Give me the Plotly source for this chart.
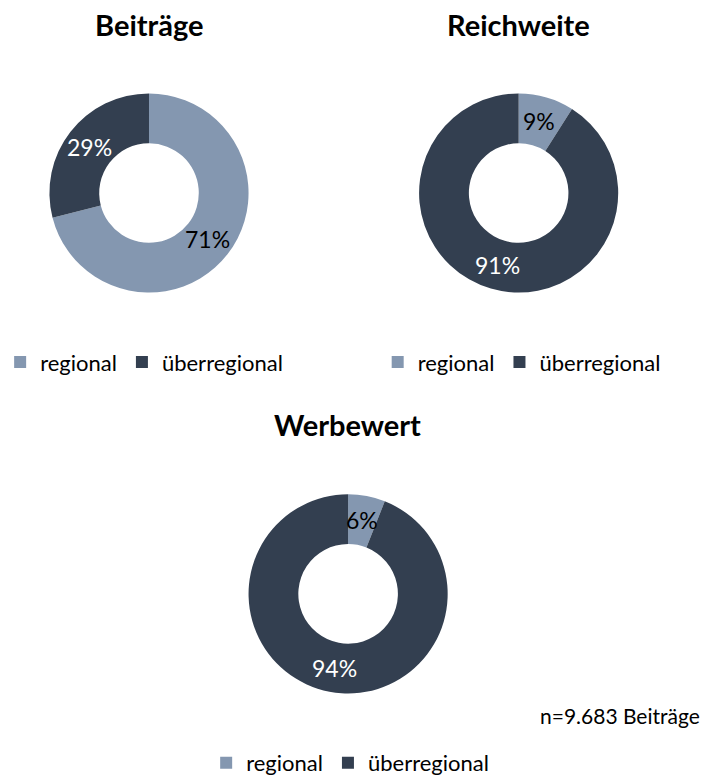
import math
import plotly.graph_objects as go

labels = ["regional", "überregional"]
beitraege = [71, 29]
reichweite = [9, 91]
werbewert = [6, 94]
titles = ["Beiträge", "Reichweite", "Werbewert"]
note = "n=9.683 Beiträge"

colors = ["#8497B0", "#333F50"]
text_colors = ["#000000", "#ffffff"]
FONT = "Lato, Calibri, Carlito, sans-serif"
W, H = 702, 784
HOLE = 0.5


def px_x(v):
    return v / W


def px_y(v):
    return 1 - v / H


fig = go.Figure()

# (values, center x, center y, radius in px, legend id)
charts = [
    (beitraege, 141, 195, 101, "legend"),
    (reichweite, 516, 195, 101, "legend2"),
    (werbewert, 343, 600, 101, "legend3"),
]

for values, cx, cy, r, leg in charts:
    fig.add_trace(go.Pie(
        labels=labels,
        values=values,
        hole=HOLE,
        sort=False,
        direction="clockwise",
        rotation=0,
        domain=dict(x=[px_x(cx - r), px_x(cx + r)], y=[px_y(cy + r), px_y(cy - r)]),
        marker=dict(colors=colors, line=dict(width=0)),
        textinfo="none",
        showlegend=False,
        hoverinfo="label+percent",
    ))
    # percent labels at the middle of the ring, on each slice's bisector
    total = sum(values)
    start = 0.0
    rm = r * (1 + HOLE) / 2
    for v, tc in zip(values, text_colors):
        ang = 2 * math.pi * (start + v / 2) / total
        start += v
        fig.add_annotation(
            text="%d%%" % round(100 * v / total),
            x=px_x(cx + rm * math.sin(ang)), y=px_y(cy - rm * math.cos(ang)),
            xref="paper", yref="paper", showarrow=False,
            xanchor="center", yanchor="middle",
            font=dict(size=23, family=FONT, color=tc),
        )
    # legend entries
    for lab, col in zip(labels, colors):
        fig.add_trace(go.Scatter(
            x=[None], y=[None], mode="markers", name=lab,
            marker=dict(symbol="square", size=12, color=col),
            legend=leg, showlegend=True, hoverinfo="skip",
        ))

legend_style = dict(
    orientation="h",
    xanchor="left",
    yanchor="middle",
    font=dict(size=22, family=FONT, color="#000000"),
    bgcolor="rgba(0,0,0,0)",
    itemclick=False,
    itemdoubleclick=False,
)

fig.update_layout(
    width=W,
    height=H,
    margin=dict(l=0, r=0, t=0, b=0),
    paper_bgcolor="white",
    plot_bgcolor="white",
    font=dict(family=FONT, color="#000000"),
    xaxis=dict(visible=False),
    yaxis=dict(visible=False),
    legend=dict(x=px_x(-10), y=px_y(366), **legend_style),
    legend2=dict(x=px_x(373), y=px_y(366), **legend_style),
    legend3=dict(x=px_x(199), y=px_y(771), **legend_style),
)

title_pos = [(141, 25), (516, 25), (342, 429)]
for t, (x, y) in zip(titles, title_pos):
    fig.add_annotation(
        text="<b>%s</b>" % t, x=px_x(x), y=px_y(y), xref="paper", yref="paper",
        showarrow=False, xanchor="center", yanchor="middle",
        font=dict(size=29, family=FONT, color="#000000"),
    )

fig.add_annotation(
    text=note, x=px_x(536), y=px_y(723), xref="paper", yref="paper",
    showarrow=False, xanchor="left", yanchor="middle",
    font=dict(size=21, family=FONT, color="#000000"),
)

fig.write_html(
    "out.html",
    config=dict(displayModeBar=False),
    post_script="document.body.style.margin='0';",
)
